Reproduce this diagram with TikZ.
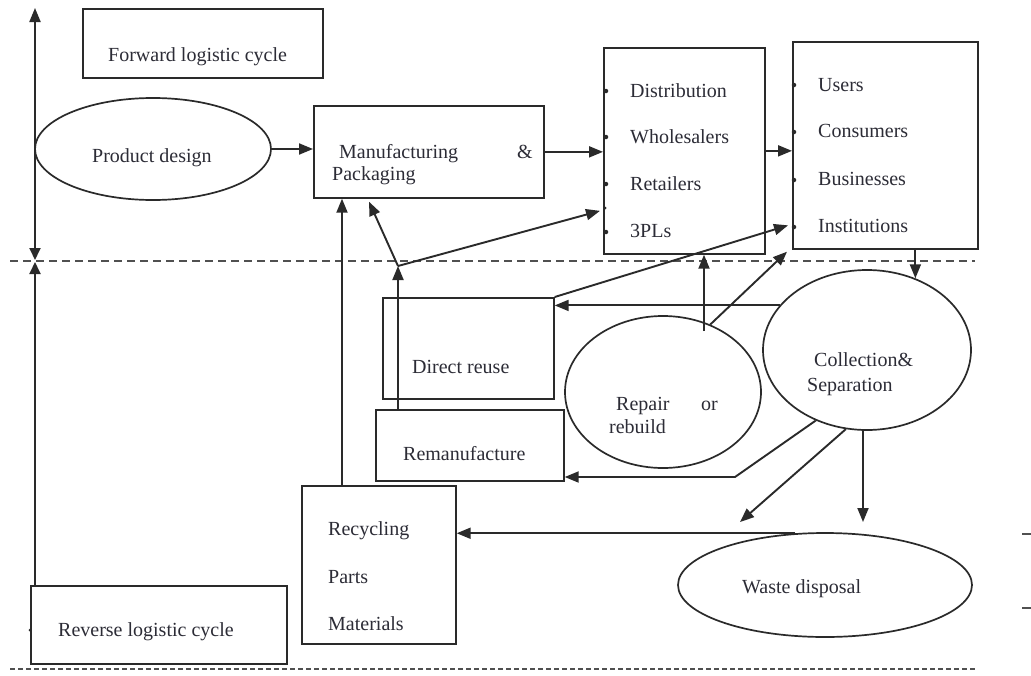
\documentclass[tikz,border=0pt]{standalone}
\usepackage{fontspec}
\setmainfont{Liberation Serif}
\usetikzlibrary{shapes.geometric,arrows.meta}
\definecolor{ink}{HTML}{2A2A2A}
\definecolor{txt}{HTML}{2C2C36}
\definecolor{dashc}{HTML}{505050}

\begin{document}
\begin{tikzpicture}[x=1pt,y=-1pt,
  box/.style={draw=ink, line width=1.7pt, inner sep=0pt, anchor=north west},
  oval/.style={draw=ink, line width=1.7pt, ellipse, inner sep=0pt},
  lbl/.style={text=txt, inner sep=0pt, anchor=base west, font=\fontsize{20}{24}\selectfont},
  tip/.style={Triangle[length=14pt,width=11pt]},
  arr/.style={draw=ink, line width=1.9pt, -{Triangle[length=14pt,width=11pt]}},
  sep/.style={draw=dashc, line width=1.5pt, dash pattern=on 8pt off 5pt},
  sepb/.style={draw=dashc, line width=1.8pt, dash pattern=on 5pt off 3pt},
  dot/.style={fill=ink, circle, inner sep=0pt, minimum size=4.5pt}]

\useasboundingbox[fill=white] (0,0) rectangle (1031,675);

% boxes
\node[box, minimum width=240pt, minimum height=69pt] (fwd) at (82,8) {};
\node[box, minimum width=230pt, minimum height=92pt] (mfg) at (313,105) {};
\node[box, minimum width=161pt, minimum height=206pt] (dist) at (603,47) {};
\node[box, minimum width=185pt, minimum height=207pt] (users) at (792,41) {};
\node[box, minimum width=171pt, minimum height=101pt] (dr) at (382,297) {};
\node[box, minimum width=188pt, minimum height=71pt] (rem) at (375,409) {};
\node[box, minimum width=154pt, minimum height=158pt] (rec) at (301,485) {};
\node[box, minimum width=256pt, minimum height=78pt] (rev) at (30,585) {};

% ellipses
\node[oval, minimum width=236pt, minimum height=102pt] (prod) at (153,149) {};
\node[oval, minimum width=196pt, minimum height=152pt] (rep) at (663,392) {};
\node[oval, minimum width=208pt, minimum height=160pt] (coll) at (867,350) {};
\node[oval, minimum width=294pt, minimum height=104pt] (ws) at (825,585) {};

% labels
\node[lbl] (tfwd) at (108,61) {Forward logistic cycle};
\node[lbl] (tprod) at (92,162) {Product design};
\node[lbl] (tmfg) at (339,158) {Manufacturing};
\node[lbl] (tamp) at (517,158) {\&};
\node[lbl] (tpack) at (332,180) {Packaging};
\node[lbl] (td1) at (630,97) {Distribution};
\node[lbl] (td2) at (630,143) {Wholesalers};
\node[lbl] (td3) at (630,190) {Retailers};
\node[lbl] (td4) at (630,237) {3PLs};
\node[lbl] (tu1) at (818,91) {Users};
\node[lbl] (tu2) at (818,137) {Consumers};
\node[lbl] (tu3) at (818,185) {Businesses};
\node[lbl] (tu4) at (818,232) {Institutions};
\node[lbl] (tdr) at (412,373) {Direct reuse};
\node[lbl] (trem) at (403,460) {Remanufacture};
\node[lbl] (trep) at (616,410) {Repair};
\node[lbl] (tor) at (701,410) {or};
\node[lbl] (treb) at (609,433) {rebuild};
\node[lbl] (tcol) at (814,366) {Collection\&};
\node[lbl] (tsep) at (807,391) {Separation};
\node[lbl] (tws) at (742,593) {Waste disposal};
\node[lbl] (trc1) at (328,535) {Recycling};
\node[lbl] (trc2) at (328,583) {Parts};
\node[lbl] (trc3) at (328,630) {Materials};
\node[lbl] (trev) at (58,636) {Reverse logistic cycle};

% list bullets on the left edges
\foreach \yy [count=\i] in {91,137,184,232} \node[dot] (bd\i) at (606,\yy) {};
\node[dot, minimum size=3pt] (bd5) at (605,208) {};
\foreach \yy [count=\i] in {85,132,180,227} \node[dot] (bu\i) at (794,\yy) {};
\node[dot, minimum size=3pt] (brev) at (30,630) {};

% separators between the forward and reverse cycles
\draw[sep] (10,261) -- (975,261);
\draw[sepb] (10,669) -- (975,669);

% left cycle axis
\coordinate (axT) at (35,8);
\coordinate (axM) at (35,260);
\draw[draw=ink, line width=1.9pt, {Triangle[length=12pt,width=11pt]}-{Triangle[length=14pt,width=11pt]}] (axM) -- (axT);
\draw[draw=ink, line width=1.9pt, -{Triangle[length=12pt,width=11pt]}] (rev.north west -| axM) -- ([yshift=-2pt]axM);

% forward flow
\draw[arr] (prod.east) -- (prod.east -| mfg.west);
\draw[arr] (mfg.east) -- (mfg.east -| dist.west);
\draw[arr] (dist.east) -- (dist.east -| users.west);
\draw[arr] (coll.56 |- users.south) -- (coll.56);

% reverse flow out of collection
\draw[arr] (coll.153) -- (coll.153 -| dr.east);
\coordinate (bend) at (735,477);
\draw[arr] (coll.234) -- (bend) -- (bend -| rem.east);
\coordinate (csTip) at (740,522);
\draw[arr] (coll.255) -- (csTip);
\coordinate (wsTip) at (863,522);
\draw[arr] (coll.south -| wsTip) -- (wsTip);
\draw[arr] (ws.120) -- (ws.120 -| rec.east);

% returns to the forward cycle
\coordinate (repT) at (704,331);
\draw[arr] (repT) -- (repT |- dist.south);
\draw[arr] (rep.55) -- ([xshift=-5pt,yshift=-2pt]users.south west);
\draw[arr] (dr.north east) -- ([xshift=-4pt,yshift=-80pt]users.west);
\coordinate (J) at (398,266);
\draw[arr] (rem.north -| J) -- (J);
\draw[arr] (J) -- ([xshift=56pt,yshift=-3pt]mfg.south west);
\draw[arr] (J) -- ([xshift=-3pt,yshift=-60pt]dist.west);
\coordinate (mfgR) at ([xshift=29pt]mfg.south west);
\draw[arr] (rec.north -| mfgR) -- (mfgR);

% margin ticks
\draw[draw=dashc, line width=1.5pt] (1022,534) -- (1031,534);
\draw[draw=dashc, line width=1.5pt] (1022,608) -- (1031,608);
\end{tikzpicture}
\end{document}
